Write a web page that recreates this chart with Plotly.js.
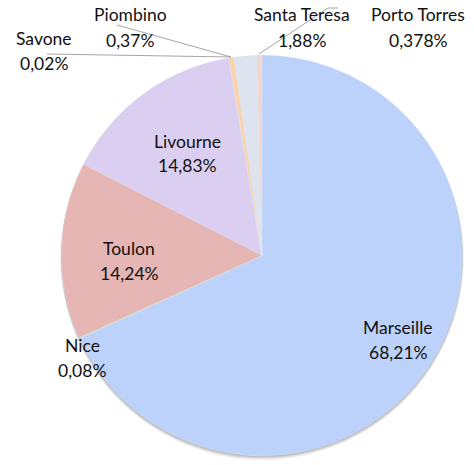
<!DOCTYPE html>
<html>
<head>
<meta charset="utf-8">
<script src="https://cdn.plot.ly/plotly-3.0.1.min.js"></script>
<style>html,body{margin:0;padding:0;background:#fff;}#chart{width:474px;height:465px;}</style>
</head>
<body>
<div id="chart"></div>
<script>
// Data (clockwise from 12 o'clock)
const ports = ["Marseille", "Nice", "Toulon", "Livourne", "Savone", "Piombino", "Santa Teresa", "Porto Torres"];
const shares = [68.21, 0.08, 14.24, 14.83, 0.02, 0.37, 1.88, 0.378];
const sliceColors = ["#bdd2fb", "#c9e3c1", "#e6b6b4", "#dacff0", "#f3e6c8", "#fbd2a9", "#dde3ef", "#f2d5cf"];

// Label placement (pixel centres of the name line) and leader lines
const W = 474, H = 465;
const labelPos = {
  "Marseille":    [398, 327],
  "Nice":         [82, 345],
  "Toulon":       [129, 248],
  "Livourne":     [187, 141],
  "Savone":       [44, 38],
  "Piombino":     [130, 15],
  "Santa Teresa": [302, 15],
  "Porto Torres": [418, 15]
};
const leaders = {
  "Savone":       [[47, 54], [231, 57]],
  "Piombino":     [[117, 25], [231, 57]],
  "Santa Teresa": [[259, 54], [328, 8], [338, 8]]
};

function px(x) { return x / W; }
function py(y) { return 1 - y / H; }
function fmt(v) { return String(v).replace('.', ',') + '%'; }

const font = {family: "Lato, 'Open Sans', sans-serif", size: 17.5, color: "#111111"};
const annotations = [];
ports.forEach((p, i) => {
  const pos = labelPos[p];
  annotations.push({xref: 'paper', yref: 'paper', x: px(pos[0]), y: py(pos[1]),
    text: p, showarrow: false, font: font, xanchor: 'center', yanchor: 'middle'});
  annotations.push({xref: 'paper', yref: 'paper', x: px(pos[0]), y: py(pos[1] + 25),
    text: fmt(shares[i]), showarrow: false, font: font, xanchor: 'center', yanchor: 'middle'});
});

const cx = 262, cy = 255.5, r = 200.5;
const shapes = [];
// soft shadow beneath the pie
[[4, 0.05], [3, 0.06], [2, 0.08], [1, 0.1]].forEach(([d, a]) => {
  shapes.push({type: 'circle', xref: 'paper', yref: 'paper', layer: 'below',
    x0: px(cx - r - d * 0.3), x1: px(cx + r + d * 0.3), y0: py(cy + r + d), y1: py(cy - r + d * 0.5),
    fillcolor: 'rgba(0,0,0,' + a + ')', line: {width: 0}});
});
Object.keys(leaders).forEach(k => {
  const pts = leaders[k];
  for (let j = 0; j < pts.length - 1; j++) {
    shapes.push({type: 'line', xref: 'paper', yref: 'paper',
      x0: px(pts[j][0]), y0: py(pts[j][1]), x1: px(pts[j+1][0]), y1: py(pts[j+1][1]),
      line: {color: '#a6a6a6', width: 1}});
  }
});

const trace = {
  type: 'pie',
  labels: ports,
  values: shares,
  sort: false,
  direction: 'clockwise',
  rotation: 0,
  textinfo: 'none',
  hoverinfo: 'label+percent',
  marker: {colors: sliceColors, line: {color: 'rgba(255,255,255,0.3)', width: 0.5}},
  domain: {x: [px(cx - r), px(cx + r)], y: [py(cy + r), py(cy - r)]},
  showlegend: false
};

Plotly.newPlot('chart', [trace], {
  width: W, height: H,
  margin: {l: 0, r: 0, t: 0, b: 0},
  paper_bgcolor: '#ffffff',
  plot_bgcolor: 'rgba(0,0,0,0)',
  showlegend: false,
  annotations: annotations,
  shapes: shapes
}, {displayModeBar: false, staticPlot: true});
</script>
</body>
</html>
